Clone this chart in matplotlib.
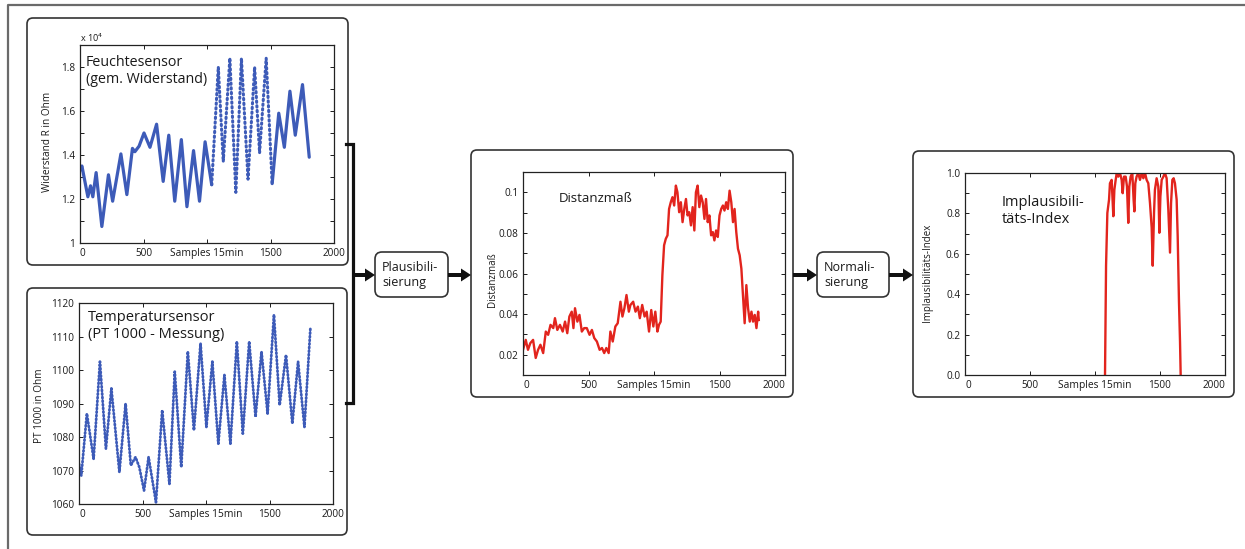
import numpy as np
import matplotlib
matplotlib.use('Agg')
import matplotlib.pyplot as plt
from matplotlib.patches import FancyBboxPatch, FancyArrow

plt.rcParams['font.family'] = ['Open Sans', 'DejaVu Sans']

feuchte_x = [0, 15, 62, 83, 101, 127, 172, 224, 257, 322, 369, 413, 432, 465, 504, 551, 603, 655, 699, 746,
             798, 842, 894, 941, 985, 1037, 1089, 1128, 1180, 1227, 1271, 1323, 1375, 1414, 1466, 1513,
             1565, 1609, 1653, 1695, 1752, 1805]
feuchte_r = [13300, 13500, 12100, 12600, 12100, 13200, 10750, 13100, 11900, 14050, 12200, 14300, 14150, 14400,
             15000, 14350, 15400, 12800, 14900, 11900, 14700, 11650, 14200, 11900, 14600, 12650, 18000, 13700,
             18400, 12300, 18400, 12900, 18000, 14100, 18400, 12700, 15900, 14350, 16900, 14900, 17200, 13900]

# Temperatursensor: PT 1000 in Ohm
temp_x = [0, 18, 62, 115, 165, 212, 255, 318, 367, 408, 445, 475, 512, 548, 606, 655, 712, 754, 805, 857,
          905, 957, 1003, 1050, 1097, 1145, 1192, 1243, 1290, 1340, 1390, 1437, 1485, 1535, 1580, 1630,
          1680, 1725, 1775, 1822]
temp_r = [1072, 1068.5, 1087, 1073.5, 1102.5, 1076.5, 1094.5, 1069.5, 1090, 1071.5, 1074, 1071, 1064, 1074,
          1060.5, 1088, 1066, 1099.5, 1071, 1105.5, 1082, 1108, 1083, 1102.5, 1078, 1098.5, 1078, 1108.5,
          1081, 1108.5, 1086, 1105.5, 1087, 1116.5, 1089.5, 1104.5, 1084, 1102.5, 1083, 1112.5]

# Distanzmass
dist_x = [0, 21, 38, 56, 77, 97, 115, 133, 154, 174, 192, 210, 231, 244, 262, 282, 303, 321, 338, 354,
          372, 385, 397, 415, 431, 449, 467, 487, 508, 526, 544, 564, 585, 603, 620, 636, 654, 667, 685, 705,
          723, 744, 759, 774, 790, 808, 820, 841, 859, 877, 892, 910, 928, 944, 962, 979, 995, 1010, 1026,
          1038, 1051, 1064, 1077, 1090, 1103, 1115, 1128, 1141, 1154, 1167, 1179, 1192, 1205, 1218, 1231,
          1244, 1256, 1269, 1282, 1295, 1308, 1320, 1333, 1346, 1359, 1372, 1385, 1397, 1410, 1423, 1436,
          1449, 1461, 1474, 1487, 1500, 1513, 1526, 1538, 1551, 1564, 1577, 1590, 1603, 1615, 1628, 1641,
          1654, 1667, 1679, 1692, 1705, 1718, 1731, 1744, 1756, 1769, 1782, 1795, 1800]
dist_v = [0.0224, 0.0273, 0.0224, 0.0257, 0.0273, 0.0184, 0.0224, 0.0249, 0.0208, 0.0314, 0.0298, 0.0347,
          0.0331, 0.0380, 0.0322, 0.0347, 0.0314, 0.0363, 0.0306, 0.0388, 0.0412, 0.0331, 0.0429, 0.0363,
          0.0396, 0.0314, 0.0331, 0.0331, 0.0298, 0.0322, 0.0282, 0.0265, 0.0224, 0.0233, 0.0208, 0.0233,
          0.0208, 0.0314, 0.0265, 0.0339, 0.0355, 0.0461, 0.0388, 0.0429, 0.0494, 0.0412, 0.0445, 0.0461,
          0.0412, 0.0437, 0.0380, 0.0445, 0.0388, 0.0412, 0.0314, 0.0420, 0.0339, 0.0412, 0.0314, 0.0347,
          0.0363, 0.0592, 0.0739, 0.0771, 0.0788, 0.0918, 0.0951, 0.0976, 0.0935, 0.1033, 0.1000, 0.0902,
          0.0951, 0.0853, 0.0918, 0.0967, 0.0886, 0.0902, 0.0837, 0.0927, 0.0812, 0.1000, 0.1033, 0.0927,
          0.0984, 0.0951, 0.0869, 0.0967, 0.0853, 0.0886, 0.0788, 0.0804, 0.0763, 0.0812, 0.0780, 0.0886,
          0.0918, 0.0935, 0.0910, 0.0951, 0.0918, 0.1008, 0.0951, 0.0853, 0.0918, 0.0804, 0.0722, 0.0690,
          0.0624, 0.0494, 0.0355, 0.0543, 0.0429, 0.0363, 0.0412, 0.0363, 0.0396, 0.0331, 0.0412, 0.0371]

# Implausibilitaets-Index (vor 1077 und nach 1659 gleich 0)
impl_x = [1077, 1085, 1095, 1108, 1115, 1128, 1141, 1149, 1159, 1167, 1179, 1192, 1205, 1213, 1223, 1236,
          1246, 1256, 1264, 1274, 1287, 1297, 1303, 1310, 1320, 1333, 1346, 1359, 1372, 1385, 1397, 1410,
          1423, 1436, 1444, 1454, 1461, 1474, 1487, 1495, 1503, 1513, 1526, 1538, 1551, 1564, 1577, 1585,
          1595, 1605, 1615, 1628, 1636, 1646, 1654, 1659]
impl_v = [0.0, 0.541, 0.802, 0.868, 0.949, 0.966, 0.786, 0.917, 0.966, 1.0, 0.982, 1.0, 0.966, 0.90, 0.982,
          0.982, 0.933, 0.753, 0.933, 0.982, 1.0, 0.868, 0.81, 0.949, 0.982, 1.0, 0.966, 1.0, 0.974, 1.0,
          0.966, 0.949, 0.851, 0.729, 0.541, 0.802, 0.917, 0.974, 0.933, 0.704, 0.884, 0.966, 0.982, 1.0,
          0.974, 0.819, 0.606, 0.851, 0.966, 0.974, 0.949, 0.868, 0.688, 0.361, 0.165, 0.0]

x_ticks = [0, 500, 1000, 1500, 2000]
x_ticklabels = ['0', '500', '', '1500', '2000']

W, H = 1245, 549
BLUE = '#3d5bb8'
RED = '#e2241d'
INK = '#1a1a1a'

fig = plt.figure(figsize=(W / 100, H / 100), dpi=100)
over = fig.add_axes([0, 0, 1, 1], zorder=0)
over.set_xlim(0, W)
over.set_ylim(H, 0)
over.axis('off')


def px_axes(l, t, r, b):
  # pixel box (origin top left) -> figure fraction
  return fig.add_axes([l / W, 1 - b / H, (r - l) / W, (b - t) / H], zorder=1)


def style_axes(ax, first_ha='left', last_ha='center'):
  ax.set_xlim(0, 2000)
  ax.set_xticks(x_ticks)
  ax.set_xticklabels(x_ticklabels)
  ax.tick_params(direction='in', top=True, right=True, length=3, width=0.7,
                 labelsize=7.2, pad=3.5, colors=INK)
  labels = ax.get_xticklabels()
  labels[0].set_ha(first_ha)
  labels[-1].set_ha(last_ha)
  for s in ax.spines.values():
    s.set_linewidth(0.9)
    s.set_color('#222222')
  ax.annotate('Samples 15min', xy=(0.5, 0), xycoords='axes fraction', xytext=(0, -5),
              textcoords='offset pixels', ha='center', va='top', fontsize=7.4, color=INK)


def rbox(l, t, r, b, rad):
  over.add_patch(FancyBboxPatch((l, t), r - l, b - t, boxstyle='round,pad=0,rounding_size=%d' % rad,
                                fc='none', ec='#333333', lw=1.2))


# outer frame (only top and left visible)
over.plot([8, 8, W], [H, 5, 5], color='#6a6a6a', lw=1.6, solid_capstyle='butt')

# panel boxes
rbox(27, 18, 348, 265, 6)
rbox(27, 288, 347, 535, 6)
rbox(471, 150, 793, 397, 6)
rbox(913, 151, 1234, 397, 6)
rbox(375, 252, 448, 297, 7)
rbox(817, 252, 889, 297, 7)

# bracket + arrows
over.plot([346, 353, 353, 346], [144, 144, 403, 403], color='#111111', lw=2.3, solid_joinstyle='miter')
for x0, x1 in [(353, 375), (448, 471), (793, 817), (889, 913)]:
  over.add_patch(FancyArrow(x0, 275, x1 - x0, 0, width=4, head_width=13, head_length=10,
                            length_includes_head=True, fc='#111111', ec='none'))

over.text(382, 275, 'Plausibili-\nsierung', ha='left', va='center', fontsize=9, linespacing=1.2, color=INK)
over.text(824, 275, 'Normali-\nsierung', ha='left', va='center', fontsize=9, linespacing=1.2, color=INK)

# y labels
over.text(47, 142, 'Widerstand R in Ohm', rotation=90, ha='center', va='center', fontsize=7.2, color=INK)
over.text(40, 406, 'PT 1000 in Ohm', rotation=90, ha='center', va='center', fontsize=7.2, color=INK)
over.text(493, 280, 'Distanzmaß', rotation=90, ha='center', va='center', fontsize=7, color=INK)
over.text(928, 273, 'Implausibilitäts-Index', rotation=90, ha='center', va='center', fontsize=7, color=INK)
over.text(80, 38, r'x 10$^4$', ha='left', va='center', fontsize=6.5, color=INK)

# panel 1: Feuchtesensor
ax1 = px_axes(80, 45, 334, 243)
r = np.array(feuchte_r) / 1e4
ax1.plot(feuchte_x[:26], r[:26], color=BLUE, lw=2.3, solid_capstyle='round', solid_joinstyle='round')
ax1.plot(feuchte_x[25:36], r[25:36], color=BLUE, lw=2.2, linestyle=(0, (0.45, 1.1)), dash_capstyle='round')
ax1.plot(feuchte_x[35:], r[35:], color=BLUE, lw=2.3, solid_capstyle='round', solid_joinstyle='round')
ax1.set_ylim(1.0, 1.9)
ax1.set_yticks(np.round(np.arange(1.0, 1.95, 0.1), 1))
ax1.set_yticklabels(['1', '', '1.2', '', '1.4', '', '1.6', '', '1.8', ''])
style_axes(ax1)
ax1.text(86, 55, 'Feuchtesensor\n(gem. Widerstand)', transform=over.transData, ha='left', va='top',
         fontsize=10.3, linespacing=1.15, color=INK)

# panel 2: Temperatursensor
ax2 = px_axes(79, 303, 333, 504)
ax2.plot(temp_x, temp_r, color=BLUE, lw=2.0, linestyle=(0, (0.4, 0.9)), dash_capstyle='round')
ax2.set_ylim(1060, 1120)
ax2.set_yticks(range(1060, 1121, 10))
style_axes(ax2)
ax2.text(88, 310, 'Temperatursensor\n(PT 1000 - Messung)', transform=over.transData, ha='left', va='top',
         fontsize=10.5, linespacing=1.15, color=INK)

# panel 3: Distanzmass
ax3 = px_axes(523, 172, 785, 375)
ax3.plot(dist_x, dist_v, color=RED, lw=1.7)
ax3.set_ylim(0.01, 0.11)
ax3.set_yticks(np.round(np.arange(0.01, 0.111, 0.01), 2))
ax3.set_yticklabels(['', '0.02', '', '0.04', '', '0.06', '', '0.08', '', '0.1', ''])
style_axes(ax3, last_ha='right')
ax3.text(559, 199, 'Distanzmaß', transform=over.transData, ha='left', va='center', fontsize=9.5, color=INK)

# panel 4: Implausibilitaets-Index
ax4 = px_axes(965, 173, 1225, 375)
ax4.plot(impl_x, impl_v, color=RED, lw=1.7)
ax4.set_ylim(0, 1)
ax4.set_yticks(np.round(np.arange(0, 1.01, 0.1), 1))
ax4.set_yticklabels(['0.0', '', '0.2', '', '0.4', '', '0.6', '', '0.8', '', '1.0'])
style_axes(ax4, last_ha='right')
ax4.text(1002, 195, 'Implausibili-\ntäts-Index', transform=over.transData, ha='left', va='top',
         fontsize=10.5, linespacing=1.2, color=INK)

fig.savefig('out.png', dpi=100)
